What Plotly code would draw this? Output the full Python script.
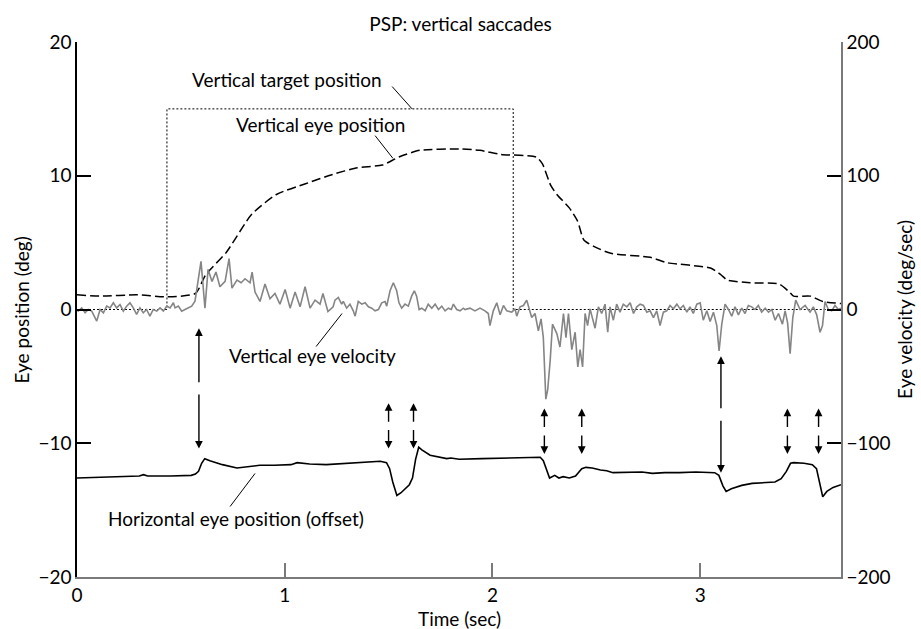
import plotly.graph_objects as go

# ---------------- data ----------------
title_text = "PSP: vertical saccades"
x_title = "Time (sec)"
y_title = "Eye position (deg)"
y2_title = "Eye velocity (deg/sec)"

# vertical target position (deg)
target_t = [0.0, 0.433, 0.433, 2.10, 2.10, 3.678]
target_pos = [0.0, 0.0, 15.0, 15.0, 0.0, 0.0]

# vertical eye position (deg)
veye_t = [0.0, 0.11, 0.29, 0.43, 0.57, 0.62, 0.72, 0.84, 0.96, 1.10, 1.23, 1.35, 1.47,
          1.55, 1.65, 1.84, 1.94, 2.04, 2.21, 2.24, 2.28, 2.31, 2.37, 2.41, 2.44, 2.49,
          2.57, 2.76, 2.84, 3.05, 3.10, 3.13, 3.24, 3.38, 3.43, 3.45, 3.53, 3.59, 3.678]
veye_pos = [1.1, 1.0, 1.1, 0.95, 1.2, 2.6, 4.3, 7.1, 8.6, 9.4, 10.1, 10.6, 10.8,
            11.4, 11.9, 12.0, 11.9, 11.6, 11.4, 10.9, 9.3, 8.6, 7.6, 6.6, 5.2, 4.7,
            4.2, 3.9, 3.5, 3.1, 2.6, 2.2, 2.0, 1.9, 1.3, 1.0, 1.0, 0.6, 0.45]

# vertical eye velocity (deg/sec)
vel_t = [0.000, 0.006, 0.023, 0.039, 0.054, 0.071, 0.087, 0.095, 0.111, 0.127, 0.143, 0.159,
         0.175, 0.191, 0.207, 0.223, 0.239, 0.255, 0.271, 0.287, 0.303, 0.319, 0.335, 0.351,
         0.367, 0.384, 0.400, 0.416, 0.432, 0.448, 0.464, 0.472, 0.488, 0.504, 0.520, 0.536,
         0.552, 0.568, 0.584, 0.597, 0.616, 0.631, 0.650, 0.669, 0.688, 0.713, 0.732, 0.746,
         0.770, 0.790, 0.809, 0.833, 0.843, 0.857, 0.881, 0.905, 0.929, 0.953, 0.977, 1.002,
         1.026, 1.050, 1.074, 1.098, 1.122, 1.146, 1.170, 1.184, 1.208, 1.233,
         1.242, 1.258, 1.274, 1.282, 1.298, 1.314, 1.330, 1.339, 1.354, 1.371, 1.387, 1.403,
         1.419, 1.435, 1.451, 1.467, 1.483, 1.491, 1.507, 1.523, 1.539, 1.550, 1.563, 1.579,
         1.595, 1.611, 1.624, 1.635, 1.647, 1.660, 1.676, 1.691, 1.708, 1.724, 1.740, 1.756,
         1.772, 1.788, 1.802, 1.812, 1.828, 1.844, 1.860,
         1.868, 1.892, 1.916, 1.940, 1.964, 1.980, 1.988, 2.004, 2.021, 2.037, 2.053, 2.069,
         2.093, 2.109, 2.117, 2.133, 2.149, 2.165, 2.173, 2.189, 2.205, 2.221, 2.234, 2.245,
         2.257, 2.266, 2.278, 2.289, 2.310, 2.325, 2.342, 2.354, 2.366, 2.382, 2.398, 2.411,
         2.422, 2.434, 2.446, 2.458, 2.470, 2.494,
         2.510, 2.526, 2.542, 2.555, 2.566, 2.582, 2.598, 2.614, 2.630, 2.647, 2.663, 2.679,
         2.695, 2.711, 2.727, 2.743, 2.759, 2.775, 2.791, 2.807, 2.823, 2.839, 2.855, 2.871,
         2.888, 2.903, 2.919, 2.936, 2.951, 2.967, 2.984, 3.000, 3.015, 3.032, 3.048, 3.064,
         3.080, 3.091, 3.104, 3.120,
         3.136, 3.152, 3.168, 3.184, 3.200, 3.216, 3.232, 3.248, 3.264, 3.280, 3.296, 3.313,
         3.329, 3.345, 3.361, 3.377, 3.396, 3.409, 3.421, 3.433, 3.446, 3.460, 3.481, 3.505,
         3.529, 3.545, 3.561, 3.577, 3.589, 3.601, 3.617, 3.633, 3.649, 3.665, 3.678]
vel_val = [0, -1.2, 1.2, -2.5, 0, -1.2, -6.2, -8.7, 0, -2.5, 2.5, 1.2,
           5.0, 1.2, 3.7, -1.2, 2.5, 5.0, 1.2, -3.7, 1.2, -2.5, 0, -5.0,
           0, -1.2, 1.2, -1.2, 2.5, 1.2, 5.0, 1.2, 2.5, -1.2, 0, 1.2,
           2.5, 6.2, 21, 36, 1, 30, 21, 28, 17, 21, 38, 16,
           22, 20, 23, 20, 28, 13, 6, 19, 8, 12, 4, 15,
           1, 13, 2, 17, 1, 7, 4, 12, -1.5, 2,
           7, 9, 4, 6, 1, 4, -1, -5, 6, 4, 5, 2,
           1, -1, 0, 5, 6, 2.5, 14, 20, 14, 5, 1, 4,
           2.5, 10, 14, 10, 0, 1, -1, 4, 1, 4, 0, 2.5,
           -1, 1, 0, 4, 0, -1, 1,
           0, 1, -1, 1, -1, -3, -12, -1, 5, -4, 3, -1,
           -2, 0.5, -5, 2, 3, 7, 2, -6, -3, -16, -7, -21,
           -67, -60, -38, -11, -18, -28, -3, -21, -3, -30, -17, -43,
           -30, -43, -3, -12, 0.5, -14,
           2, -3, 4, -17, 2, -8, 4, -2, 4, 2, 5, -3,
           2, 4, 3, -2, -1, -6, -1, -12, -2, -1, 3, 0.5,
           4, 0.5, 3, -2, 2, -3, 4, 5, -8, -1, -9, -2,
           -12, -31, -11, 4,
           0, -5, 2, -4, 1, -3, 3, 2, 0, 3, -2, 1,
           -2, 0, -8, -3, -11, -1, -10, -33, -6, 7, 0, 3,
           -2, 2, -4, -17, -12, 6, 0, -1, 3, 0, 1]

# horizontal eye position, offset (deg)
heye_t = [0.0, 0.1, 0.2, 0.3, 0.32, 0.34, 0.45, 0.55, 0.57, 0.585, 0.60, 0.615, 0.64, 0.70,
          0.77, 0.82, 0.88, 0.95, 1.03, 1.06, 1.08, 1.12, 1.2, 1.3, 1.38, 1.46, 1.49, 1.505,
          1.52, 1.54, 1.56, 1.58, 1.60, 1.615, 1.63, 1.645, 1.66, 1.70, 1.75, 1.78, 1.80, 1.84,
          1.95, 2.05, 2.15, 2.23, 2.245, 2.26, 2.275, 2.30, 2.32, 2.34, 2.37, 2.40, 2.43, 2.45,
          2.48, 2.52, 2.55, 2.58, 2.65, 2.72, 2.77, 2.83, 2.90, 2.98, 3.07, 3.09, 3.11, 3.125,
          3.15, 3.20, 3.25, 3.30, 3.36, 3.39, 3.415, 3.435, 3.45, 3.50, 3.54, 3.56, 3.575, 3.59,
          3.61, 3.64, 3.678]
heye_pos = [-12.6, -12.55, -12.5, -12.45, -12.35, -12.45, -12.45, -12.4, -12.3, -12.1, -11.5,
            -11.15, -11.3, -11.6, -11.85, -11.75, -11.65, -11.65, -11.6, -11.45, -11.5, -11.55,
            -11.6, -11.5, -11.45, -11.35, -11.45, -11.9, -12.9, -13.9, -13.7, -13.4, -13.1,
            -12.6, -11.2, -10.3, -10.5, -10.9, -11.05, -11.15, -11.1, -11.2, -11.15, -11.1,
            -11.05, -11.05, -11.3, -12.0, -12.6, -12.4, -12.6, -12.5, -12.6, -12.45, -11.9,
            -11.8, -11.85, -12.0, -12.05, -12.2, -12.2, -12.15, -12.25, -12.2, -12.2, -12.15,
            -12.2, -12.4, -13.2, -13.6, -13.4, -13.15, -13.0, -12.95, -12.9, -12.65, -12.1,
            -11.5, -11.45, -11.5, -11.6, -11.9, -13.0, -14.0, -13.6, -13.3, -13.1]

# double-headed saccade markers: time, top tip, bottom tip (deg)
arrow_t = [0.587, 1.50, 1.62, 2.25, 2.43, 3.10, 3.42, 3.57]
arrow_top = [-1.4, -7.0, -7.0, -7.4, -7.4, -3.5, -7.4, -7.4]
arrow_bot = [-10.4, -10.4, -10.4, -10.8, -10.8, -12.2, -10.8, -10.8]

# label annotations: text, x, y, leader start (x,y), leader end (x,y)
labels = ["Vertical target position", "Vertical eye position",
          "Vertical eye velocity", "Horizontal eye position (offset)"]
label_x = [1.011, 1.170, 1.134, 0.766]
label_y = [17.2, 13.83, -3.44, -15.63]
leader_x0 = [1.517, 1.435, 1.151, 0.737]
leader_y0 = [16.67, 13.0, -2.77, -14.73]
leader_x1 = [1.613, 1.521, 1.276, 0.857]
leader_y1 = [15.0, 11.3, -0.3, -12.26]

x_ticks = [0, 1, 2, 3]
y_ticks = [-20, -10, 0, 10, 20]
y2_ticks = [-200, -100, 0, 100, 200]

# ---------------- figure ----------------
FONT = "Lato"
FS = 19
GREY = "#7a7a7a"
tfont = dict(family=FONT, size=FS, color="black")
afont = dict(family=FONT, size=19, color="black")

fig = go.Figure()

fig.add_trace(go.Scatter(x=target_t, y=target_pos, mode="lines",
                         line=dict(color="black", width=1, dash="2px,2px"),
                         hoverinfo="skip", showlegend=False))
fig.add_trace(go.Scatter(x=vel_t, y=vel_val, mode="lines", yaxis="y2",
                         line=dict(color="#858585", width=1.6),
                         hoverinfo="skip", showlegend=False))
fig.add_trace(go.Scatter(x=veye_t, y=veye_pos, mode="lines",
                         line=dict(color="black", width=1.5, dash="9px,4px", shape="spline", smoothing=0.6),
                         hoverinfo="skip", showlegend=False))
fig.add_trace(go.Scatter(x=heye_t, y=heye_pos, mode="lines",
                         line=dict(color="black", width=1.6),
                         hoverinfo="skip", showlegend=False))

annotations = []
for t, top, bot in zip(arrow_t, arrow_top, arrow_bot):
    mid = (top + bot) / 2.0
    gap = 0.35 if (top - bot) > 5 else 0.2
    for tip, tail in ((top, mid + gap), (bot, mid - gap)):
        annotations.append(dict(x=t, y=tip, ax=t, ay=tail, xref="x", yref="y",
                                axref="x", ayref="y", text="", showarrow=True,
                                arrowhead=2, arrowsize=1.1, arrowwidth=1.4,
                                arrowcolor="black"))

for txt, lx, ly in zip(labels, label_x, label_y):
    annotations.append(dict(x=lx, y=ly, xref="x", yref="y", text=txt, showarrow=False,
                            font=tfont))

# axis titles
annotations.append(dict(x=0.5, y=-0.078, xref="paper", yref="paper", text=x_title,
                        showarrow=False, font=afont, xanchor="center", yanchor="middle"))
annotations.append(dict(x=-0.072, y=0.5, xref="paper", yref="paper", text=y_title,
                        showarrow=False, font=afont, textangle=-90,
                        xanchor="center", yanchor="middle"))
annotations.append(dict(x=1.083, y=0.5, xref="paper", yref="paper", text=y2_title,
                        showarrow=False, font=afont, textangle=-90,
                        xanchor="center", yanchor="middle"))

shapes = []
for x0, y0, x1, y1 in zip(leader_x0, leader_y0, leader_x1, leader_y1):
    shapes.append(dict(type="line", xref="x", yref="y", x0=x0, y0=y0, x1=x1, y1=y1,
                       line=dict(color="black", width=1)))

fig.update_layout(
    width=921, height=629,
    margin=dict(l=77, r=80, t=42, b=52),
    paper_bgcolor="white", plot_bgcolor="white",
    font=tfont,
    title=dict(text=title_text, x=0.5, xanchor="center", y=0.962, yanchor="middle",
               font=tfont),
    annotations=annotations, shapes=shapes,
    xaxis=dict(range=[0, 3.678], tickvals=x_ticks, ticktext=[str(v) for v in x_ticks],
               showline=True, linecolor=GREY, linewidth=1.5,
               ticks="inside", ticklen=14, tickwidth=1.5, tickcolor=GREY,
               showgrid=False, zeroline=False, tickfont=tfont, automargin=False),
    yaxis=dict(range=[-20, 20], tickvals=y_ticks, ticktext=[str(v).replace("-", "\u2212") for v in y_ticks],
               showline=True, linecolor="black", linewidth=1.5,
               ticks="inside", ticklen=14, tickwidth=1.5, tickcolor="black",
               showgrid=False, zeroline=False, tickfont=tfont, automargin=False),
    yaxis2=dict(range=[-200, 200], tickvals=y2_ticks, ticktext=[str(v).replace("-", "\u2212") for v in y2_ticks],
                overlaying="y", side="right",
                showline=True, linecolor=GREY, linewidth=1.5,
                ticks="inside", ticklen=14, tickwidth=1.5, tickcolor="black",
                showgrid=False, zeroline=False, tickfont=tfont, automargin=False),
)

fig.write_html("out.html")
